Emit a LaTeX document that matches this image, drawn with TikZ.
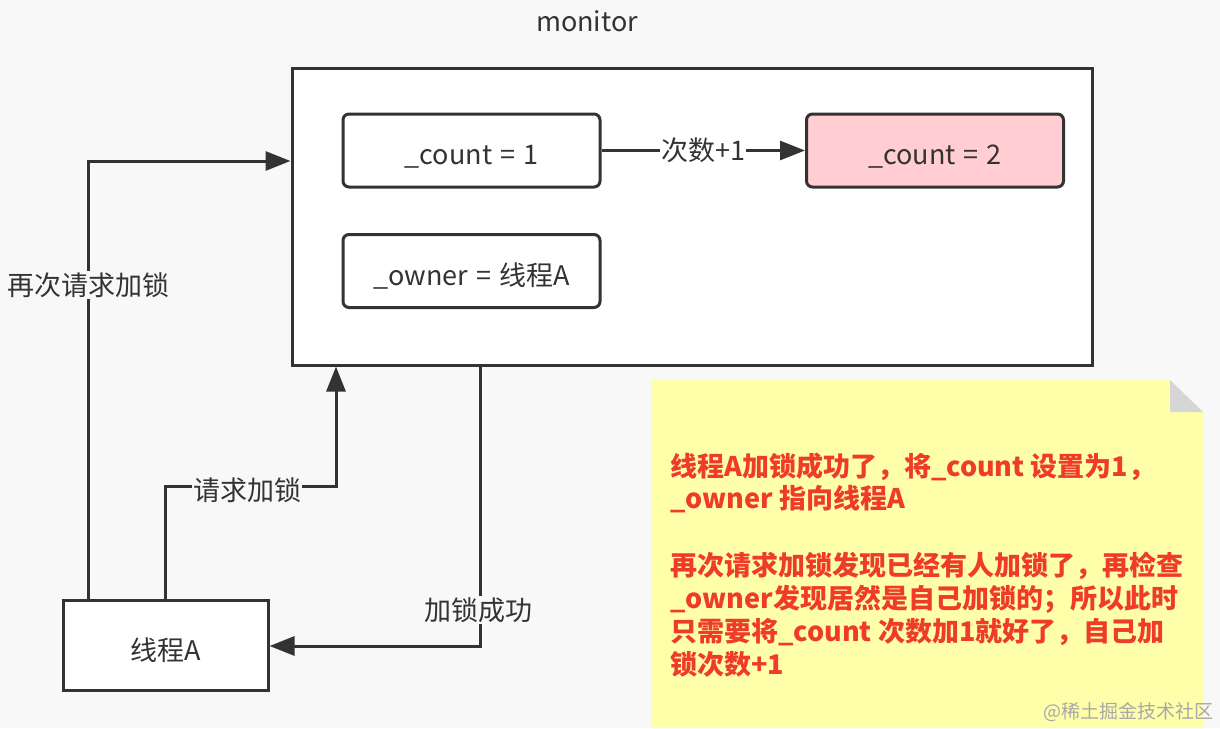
\documentclass[tikz,border=0pt]{standalone}
\usepackage{fontspec}
\setmainfont{Noto Sans CJK SC}
\usetikzlibrary{arrows.meta}
\definecolor{bg}{HTML}{F8F8F8}
\definecolor{ln}{HTML}{333333}
\definecolor{pinkf}{HTML}{FFCDD2}
\definecolor{notey}{HTML}{FFFFAA}
\definecolor{foldg}{HTML}{D6D6D6}
\definecolor{notered}{HTML}{EE3B2A}
\definecolor{wm}{HTML}{A8A8A8}
\newcommand{\gapsp}{\hspace{0.3em}}
\tikzset{
  f27/.style={font=\fontsize{27}{30}\selectfont},
  membox/.style={draw=ln, line width=3pt, rounded corners=6pt, fill=white,
    minimum width=257pt, minimum height=73pt, inner sep=0pt, f27, text=ln,
    text height=28pt, text depth=0pt},
  arr/.style={draw=ln, line width=3pt, -{Triangle[length=25pt,width=19pt]}},
  lab/.style={fill=bg, inner sep=1pt, f27, text=ln},
  notetxt/.style={anchor=west, inner sep=0pt, text=notered, font=\fontsize{27}{30}\selectfont\bfseries}
}
\begin{document}
\begin{tikzpicture}[x=1pt,y=-1pt]
\useasboundingbox (0,0) rectangle (1220,728);
\fill[bg] (0,0) rectangle (1220,728);
% title
\node[f27, text=ln] (title) at (587,21) {monitor};
% monitor box
\node[draw=ln, line width=3pt, fill=white, minimum width=800pt, minimum height=297pt, inner sep=0pt] (mon) at (692,216.5) {};
% inner boxes
\node[membox] (c1) at (471.5,150.5) {\_count\gapsp{}=\gapsp{}1};
\node[membox, fill=pinkf] (c2) at (935,150.5) {\_count\gapsp{}=\gapsp{}2};
\node[membox] (own) at (471.5,271) {\_owner\gapsp{}=\gapsp{}线程A};
\draw[arr] (c1) -- node[fill=white, inner sep=1pt, f27, text=ln] (l0) {次数+1} (c2);
% thread A
\node[draw=ln, line width=3pt, fill=white, minimum width=205pt, minimum height=90pt, inner sep=0pt, f27, text=ln, text height=30pt, text depth=0pt] (A) at (165.5,645) {线程A};
% connectors
\coordinate (r1) at (88,161);
\coordinate (q) at (336,486);
\coordinate (s) at (480,646);
\draw[arr] (A.north -| r1) -- (r1) -- (mon.west |- r1);
\node[lab] (l1) at (88,285) {再次请求加锁};
\draw[arr] (A.north) |- (q) -- (q |- mon.south);
\node[lab] (l2) at (247,490) {请求加锁};
\draw[arr] (s |- mon.south) -- (s) -- (A.east |- s);
\node[lab] (l3) at (478,610) {加锁成功};
% note
\fill[notey] (651,380) -- (1170,380) -- (1203,412) -- (1203,728) -- (651,728) -- cycle;
\fill[foldg] (1170,380) -- (1170,412) -- (1203,412) -- cycle;
\node[notetxt] (n1) at (670,467) {线程A加锁成功了，将\_count 设置为1，};
\node[notetxt] (n2) at (670,499) {\_owner 指向线程A};
\node[notetxt] (n3) at (670,566) {再次请求加锁发现已经有人加锁了，再检查};
\node[notetxt] (n4) at (670,599) {\_owner发现居然是自己加锁的；所以此时};
\node[notetxt] (n5) at (670,632) {只需要将\_count 次数加1就好了，自己加};
\node[notetxt] (n6) at (670,664) {锁次数+1};
\node[anchor=east, inner sep=0pt, text=wm, font=\fontsize{19}{22}\selectfont] (wmk) at (1214,712) {@稀土掘金技术社区};
\end{tikzpicture}
\end{document}
